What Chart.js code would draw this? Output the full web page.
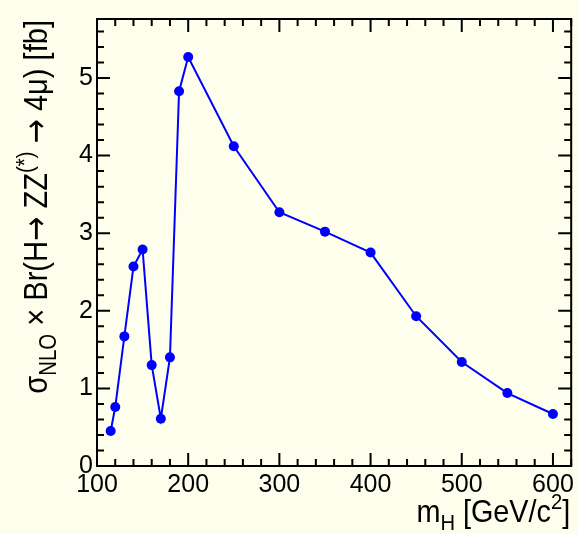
<!DOCTYPE html>
<html>
<head>
<meta charset="utf-8">
<script src="https://cdn.jsdelivr.net/npm/chart.js@4.4.1/dist/chart.umd.min.js"></script>
<style>
html,body{margin:0;padding:0;background:#fefeec;}
#wrap{width:578px;height:534px;}
</style>
</head>
<body>
<div id="wrap"><canvas id="c" width="578" height="534"></canvas></div>
<script>
const massValues = [115,120,130,140,150,160,170,180,190,200,250,300,350,400,450,500,550,600];
const sigmaValues = [0.45,0.76,1.67,2.57,2.79,1.30,0.61,1.40,4.83,5.27,4.12,3.27,3.02,2.75,1.93,1.34,0.94,0.67];
const xTickValues = [100,200,300,400,500,600];
const yTickValues = [0,1,2,3,4,5];
const xMinorStep = 20;
const yMinorStep = 0.2;

const FONT = "'Liberation Sans', Arial, Helvetica, sans-serif";
const ARROWFONT = "'DejaVu Sans', sans-serif";
const BG = '#fefeec';

function segFont(s, size) {
  const fs = (s.sub || s.sup) ? size * 0.7 : size;
  return fs + 'px ' + (s.arrow ? ARROWFONT : FONT);
}
function drawRich(ctx, segs, size) {
  let x = 0;
  for (const s of segs) {
    let dy = 0;
    if (s.sub) dy = size * 0.25;
    if (s.sup) dy = -size * 0.42;
    ctx.font = segFont(s, size);
    ctx.fillText(s.t, x, dy);
    x += ctx.measureText(s.t).width;
  }
  return x;
}
function measureRich(ctx, segs, size) {
  let x = 0;
  for (const s of segs) {
    ctx.font = segFont(s, size);
    x += ctx.measureText(s.t).width;
  }
  return x;
}

const framePlugin = {
  id: 'frame',
  beforeDraw(chart) {
    const ctx = chart.ctx;
    ctx.save();
    ctx.fillStyle = BG;
    ctx.fillRect(0, 0, chart.width, chart.height);
    ctx.restore();
  },
  beforeDatasetsDraw(chart) {
    const ctx = chart.ctx;
    const a = chart.chartArea;
    const xs = chart.scales.x, ys = chart.scales.y;
    ctx.save();
    ctx.strokeStyle = '#000';
    ctx.lineWidth = 2;
    const majL = 13, minL = 7;
    for (let i = 0; ; i++) {
      const v = xs.min + i * xMinorStep;
      if (v > xs.max + 1e-9) break;
      const px = xs.getPixelForValue(v);
      const major = xTickValues.includes(Math.round(v));
      const L = major ? majL : minL;
      ctx.beginPath();
      ctx.moveTo(px, a.bottom); ctx.lineTo(px, a.bottom - L);
      ctx.moveTo(px, a.top); ctx.lineTo(px, a.top + L);
      ctx.stroke();
    }
    for (let i = 0; ; i++) {
      const v = ys.min + i * yMinorStep;
      if (v > ys.max + 1e-9) break;
      const py = ys.getPixelForValue(v);
      const major = Math.abs(v - Math.round(v)) < 1e-6 && yTickValues.includes(Math.round(v));
      const L = major ? majL : minL;
      ctx.beginPath();
      ctx.moveTo(a.left, py); ctx.lineTo(a.left + L, py);
      ctx.moveTo(a.right, py); ctx.lineTo(a.right - L, py);
      ctx.stroke();
    }
    ctx.strokeRect(a.left, a.top, a.right - a.left, a.bottom - a.top);
    ctx.restore();
  },
  afterDraw(chart) {
    const ctx = chart.ctx;
    const a = chart.chartArea;
    ctx.save();
    ctx.fillStyle = '#000';
    ctx.textBaseline = 'alphabetic';
    ctx.textAlign = 'left';
    // x title
    const xSegs = [{t:'m'},{t:'H',sub:true},{t:' [GeV/c'},{t:'2',sup:true},{t:']'}];
    const xsz = 32, xsc = 0.9;
    const wx = measureRich(ctx, xSegs, xsz) * xsc;
    ctx.save();
    ctx.translate(a.right - 1 - wx, 522);
    ctx.scale(xsc, 1);
    drawRich(ctx, xSegs, xsz);
    ctx.restore();
    // y title
    const ySegs = [{t:'σ'},{t:'NLO',sub:true},{t:' × Br(H'},{t:'→',arrow:true},{t:' ZZ'},{t:'(*)',sup:true},{t:' '},{t:'→',arrow:true},{t:' 4μ) [fb]'}];
    const ysz = 34, ysc = 0.855;
    const wy = measureRich(ctx, ySegs, ysz) * ysc;
    ctx.save();
    ctx.translate(47, a.top + 1 + wy);
    ctx.rotate(-Math.PI / 2);
    ctx.scale(ysc, 1);
    drawRich(ctx, ySegs, ysz);
    ctx.restore();
    ctx.restore();
  }
};

new Chart(document.getElementById('c'), {
  type: 'line',
  data: {
    datasets: [{
      data: massValues.map((m, i) => ({x: m, y: sigmaValues[i]})),
      borderColor: '#0000ff',
      backgroundColor: '#0000ff',
      borderWidth: 2,
      pointRadius: 5,
      pointHoverRadius: 5,
      pointBorderWidth: 0,
      pointBackgroundColor: '#0000ff',
      tension: 0,
      fill: false
    }]
  },
  options: {
    responsive: false,
    animation: false,
    devicePixelRatio: 1,
    layout: { padding: { top: 7, right: 3, left: 0, bottom: 0 } },
    plugins: { legend: { display: false }, tooltip: { enabled: false } },
    scales: {
      x: {
        type: 'linear', min: 100, max: 620,
        grid: { display: false, drawTicks: false },
        border: { display: false },
        afterBuildTicks: s => { s.ticks = xTickValues.map(v => ({value: v})); },
        afterFit: s => { s.height = 68; },
        ticks: { font: { family: FONT, size: 25 }, color: '#000', padding: 4, maxRotation: 0, autoSkip: false,
          callback: v => String(v) }
      },
      y: {
        type: 'linear', min: 0, max: 5.76,
        grid: { display: false, drawTicks: false },
        border: { display: false },
        afterBuildTicks: s => { s.ticks = yTickValues.map(v => ({value: v})); },
        afterFit: s => { s.width = 97; },
        ticks: { font: { family: FONT, size: 25 }, color: '#000', padding: 4, autoSkip: false,
          callback: v => String(v) }
      }
    }
  },
  plugins: [framePlugin]
});
</script>
</body>
</html>
